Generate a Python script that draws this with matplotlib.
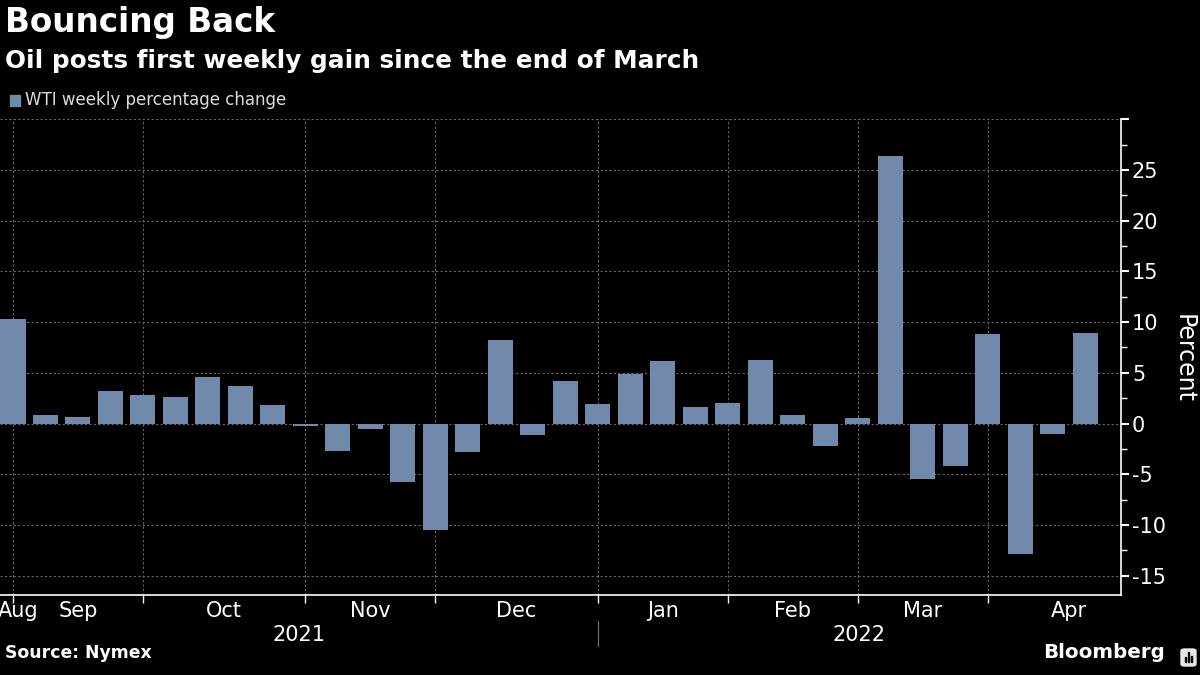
import matplotlib
matplotlib.use("Agg")
import matplotlib.pyplot as plt
from matplotlib.patches import Rectangle, FancyBboxPatch

# week-ending dates and WTI weekly % change
weeks = [
    "2021-08-27", "2021-09-03", "2021-09-10", "2021-09-17", "2021-09-24",
    "2021-10-01", "2021-10-08", "2021-10-15", "2021-10-22", "2021-10-29",
    "2021-11-05", "2021-11-12", "2021-11-19", "2021-11-26",
    "2021-12-03", "2021-12-10", "2021-12-17", "2021-12-24", "2021-12-31",
    "2022-01-07", "2022-01-14", "2022-01-21", "2022-01-28",
    "2022-02-04", "2022-02-11", "2022-02-18", "2022-02-25",
    "2022-03-04", "2022-03-11", "2022-03-18", "2022-03-25",
    "2022-04-01", "2022-04-08", "2022-04-14",
]
pct_change = [
    10.3, 0.8, 0.6, 3.2, 2.8, 2.6, 4.6, 3.7, 1.8, -0.25,
    -2.7, -0.55, -5.8, -10.5, -2.8, 8.2, -1.1, 4.2, 1.9, 4.9,
    6.2, 1.6, 2.0, 6.3, 0.8, -2.2, 0.5, 26.4, -5.5, -4.2,
    8.8, -12.9, -1.0, 8.9,
]
month_names = ["Aug", "Sep", "Oct", "Nov", "Dec", "Jan", "Feb", "Mar", "Apr"]
years = ["2021", "2022"]

plt.rcParams["font.family"] = ["DejaVu Sans"]

bar_color = "#7189ab"
grid_color = "#666666"

fig = plt.figure(figsize=(12, 6.75), dpi=100, facecolor="black")
ax = fig.add_axes([0, 0.1185, 0.934, 0.705], facecolor="black")

x = list(range(len(weeks)))
ax.bar(x, pct_change, width=0.77, color=bar_color, zorder=3)

# ticks at the last week of each month
month_ends = [i for i in range(len(weeks) - 1) if weeks[i][5:7] != weeks[i + 1][5:7]]
ax.set_xticks(month_ends)
ax.set_xticklabels([])
ax.set_xlim(-0.4, 34.1)
ax.set_ylim(-16.9, 30)

ax.yaxis.tick_right()
ax.set_yticks(range(-15, 31, 5))
ax.set_yticklabels([str(v) for v in range(-15, 30, 5)] + [""])
ax.set_yticks([v + 2.5 for v in range(-15, 30, 5)], minor=True)
ax.tick_params(axis="y", which="major", length=6, width=1.5, colors="white",
               labelsize=15, pad=2)
ax.tick_params(axis="y", which="minor", length=4, width=1, colors="white")
ax.tick_params(axis="x", length=6, width=1, colors="white")

ax.grid(True, which="major", color=grid_color, linestyle=(0, (2, 2)), linewidth=0.8, zorder=0)

for side in ["top", "left"]:
    ax.spines[side].set_visible(False)
for side in ["bottom", "right"]:
    ax.spines[side].set_color("white")
    ax.spines[side].set_linewidth(1.2)

# month labels centred between month-end ticks
bounds = [-0.3] + month_ends + [35]
label_pos = [0.15] + [(bounds[k] + bounds[k + 1]) / 2 for k in range(1, len(bounds) - 1)]
for pos, name in zip(label_pos, month_names):
    ax.text(pos, -0.012, name, transform=ax.get_xaxis_transform(), ha="center", va="top",
            color="white", fontsize=15)

year_split = month_ends[4]
ax.text((-0.4 + year_split) / 2, -0.063, years[0], transform=ax.get_xaxis_transform(),
        ha="center", va="top", color="white", fontsize=15)
ax.text((year_split + 34.1) / 2, -0.063, years[1], transform=ax.get_xaxis_transform(),
        ha="center", va="top", color="white", fontsize=15)
ax.plot([year_split, year_split], [-0.055, -0.107], transform=ax.get_xaxis_transform(),
        color="#777777", linewidth=0.8, clip_on=False)

fig.text(1184 / 1200, 1 - 358 / 675, "Percent", rotation=270, ha="center", va="center",
         color="white", fontsize=17)

fig.text(0.004, 1 - 6 / 675, "Bouncing Back", ha="left", va="top", color="white",
         fontsize=23.5, fontweight="bold")
fig.text(0.004, 0.928, "Oil posts first weekly gain since the end of March", ha="left",
         va="top", color="white", fontsize=17.8, fontweight="bold")
fig.patches.append(Rectangle((10 / 1200, 1 - 106 / 675), 10 / 1200, 11 / 675,
                             transform=fig.transFigure, color=bar_color))
fig.text(25 / 1200, 1 - 100 / 675, "WTI weekly percentage change", ha="left", va="center",
         color="#dddddd", fontsize=12)

fig.text(0.004, 0.02, "Source: Nymex", ha="left", va="bottom", color="white",
         fontsize=12.4, fontweight="bold")
fig.text(0.971, 0.02, "Bloomberg", ha="right", va="bottom", color="white",
         fontsize=14.3, fontweight="bold")

# small Bloomberg icon
fig.patches.append(FancyBboxPatch((1181 / 1200, 1 - 666 / 675), 15 / 1200, 17 / 675,
                                  boxstyle="round,pad=0,rounding_size=0.003",
                                  transform=fig.transFigure, color="#e8e8e8"))
for bx, bh in [(1184.5, 5), (1187.5, 10), (1190.5, 6)]:
    fig.patches.append(Rectangle((bx / 1200, 1 - 662 / 675), 1.5 / 1200, bh / 675,
                                 transform=fig.transFigure, color="black"))

fig.savefig("out.png", dpi=100, facecolor="black")
